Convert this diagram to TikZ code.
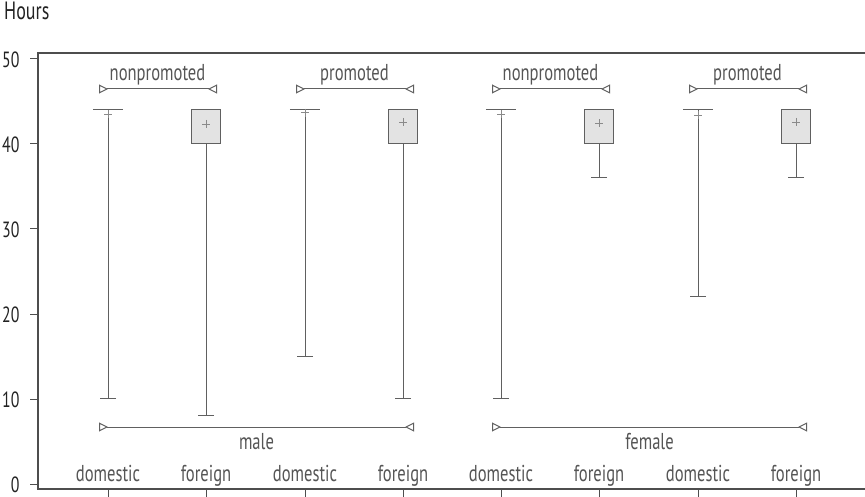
\documentclass[tikz,border=0pt]{standalone}
\usepackage{fontspec}
\setmainfont{PT Sans}[FakeStretch=0.72]
\usetikzlibrary{arrows.meta}
\definecolor{ln}{HTML}{606060}
\definecolor{txt}{HTML}{555555}
\definecolor{dark}{HTML}{222222}
\definecolor{boxfill}{HTML}{E3E3E3}
\definecolor{meanc}{HTML}{8A8A8A}
\begin{document}
\begin{tikzpicture}[x=1pt,y=-1pt,
  every node/.style={font=\fontsize{23}{25}\selectfont},
  axis/.style={draw=dark!80, line width=1.3pt},
  boxst/.style={draw=ln, fill=boxfill, line width=1pt, minimum width=29pt, inner sep=0pt},
  flatbox/.style={inner sep=0pt, minimum width=30pt, minimum height=0pt},
  whisk/.style={draw=ln, line width=1pt, -{Bar[width=16pt,line width=1pt]}},
  bracket/.style={draw=ln, line width=1pt,
     {Triangle[open,reversed,length=9pt,width=9pt,line width=1pt]}-{Triangle[open,reversed,length=9pt,width=9pt,line width=1pt]}},
  cat/.style={text=txt, anchor=base},
  grp/.style={text=txt, anchor=base},
  num/.style={text=dark, anchor=base east, font=\fontsize{22}{24}\selectfont},
  meanm/.style={draw=meanc, line width=0.8pt}
]
\useasboundingbox (0,0) rectangle (865,497);

% frame
\coordinate (tl) at (38,53);
\coordinate (bl) at (38,489);
\coordinate (tr) at (865,53);
\coordinate (br) at (865,489);
\draw[axis] (tr) -- (tl) -- (bl) -- (br);

% y ticks
\foreach \v/\yy in {0/484,10/399,20/314,30/229,40/144,50/59}{
  \draw[axis, line width=1pt] (30,\yy) -- (38,\yy);
  \node[num] (yl\v) at (23,\yy+8.5) {\v};
}
\node[text=dark, anchor=base west, inner sep=0pt, font=\fontsize{25}{27}\selectfont] (hours) at (4,19.5) {Hours};

% x ticks and category labels
\foreach \x/\t [count=\i] in {108/domestic,206/foreign,305/domestic,403/foreign,501/domestic,599/foreign,698/domestic,796/foreign}{
  \draw[axis, line width=1pt] (\x,489) -- (\x,497);
  \node[cat] (c\i) at (\x,481) {\t};
}

% mean marker
\newcommand{\meanplus}[2]{\draw[meanm] (#1-4,#2) -- (#1+4,#2) (#1,#2-4) -- (#1,#2+4);}

% group 1: male nonpromoted
\node[flatbox] (d1) at (108,110) {};
\draw[draw=ln, line width=1pt] (d1.west) -- (d1.east);
\coordinate (m1) at (108,399);
\draw[whisk] (d1.center) -- (m1);
\meanplus{108}{114.3}

\node[boxst, minimum height=34pt] (f1) at (206,127) {};
\coordinate (m2) at (206,416);
\draw[whisk] (f1.south) -- (m2);
\meanplus{206}{124}

% male promoted
\node[flatbox] (d2) at (305,110) {};
\draw[draw=ln, line width=1pt] (d2.west) -- (d2.east);
\coordinate (m3) at (305,356.5);
\draw[whisk] (d2.center) -- (m3);
\meanplus{305}{112.6}

\node[boxst, minimum height=34pt] (f2) at (403,127) {};
\coordinate (m4) at (403,399);
\draw[whisk] (f2.south) -- (m4);
\meanplus{403}{122}

% female nonpromoted
\node[flatbox] (d3) at (501,110) {};
\draw[draw=ln, line width=1pt] (d3.west) -- (d3.east);
\coordinate (m5) at (501,399);
\draw[whisk] (d3.center) -- (m5);
\meanplus{501}{114.3}

\node[boxst, minimum height=34pt] (f3) at (599,127) {};
\coordinate (m6) at (599,178);
\draw[whisk] (f3.south) -- (m6);
\meanplus{599}{123.5}

% female promoted
\node[flatbox] (d4) at (698,110) {};
\draw[draw=ln, line width=1pt] (d4.west) -- (d4.east);
\coordinate (m7) at (698,297);
\draw[whisk] (d4.center) -- (m7);
\meanplus{698}{115.5}

\node[boxst, minimum height=34pt] (f4) at (796,127) {};
\coordinate (m8) at (796,178);
\draw[whisk] (f4.south) -- (m8);
\meanplus{796}{122}

% brackets
\coordinate (n1a) at (99,89);  \coordinate (n1b) at (217,89);
\coordinate (p1a) at (296,89); \coordinate (p1b) at (414,89);
\coordinate (n2a) at (492,89); \coordinate (n2b) at (610,89);
\coordinate (p2a) at (689,89); \coordinate (p2b) at (807,89);
\draw[bracket] (n1a) -- (n1b);
\draw[bracket] (p1a) -- (p1b);
\draw[bracket] (n2a) -- (n2b);
\draw[bracket] (p2a) -- (p2b);
\node[grp] (ln1) at (157.5,81) {nonpromoted};
\node[grp] (lp1) at (354.5,81) {promoted};
\node[grp] (ln2) at (550.5,81) {nonpromoted};
\node[grp] (lp2) at (747.5,81) {promoted};

\coordinate (ma) at (99,427);  \coordinate (mb) at (414,427);
\coordinate (fa) at (492,427); \coordinate (fb) at (807,427);
\draw[bracket] (ma) -- (mb);
\draw[bracket] (fa) -- (fb);
\node[grp] (lmale) at (256.5,449) {male};
\node[grp] (lfemale) at (649.5,449) {female};
\end{tikzpicture}
\end{document}
